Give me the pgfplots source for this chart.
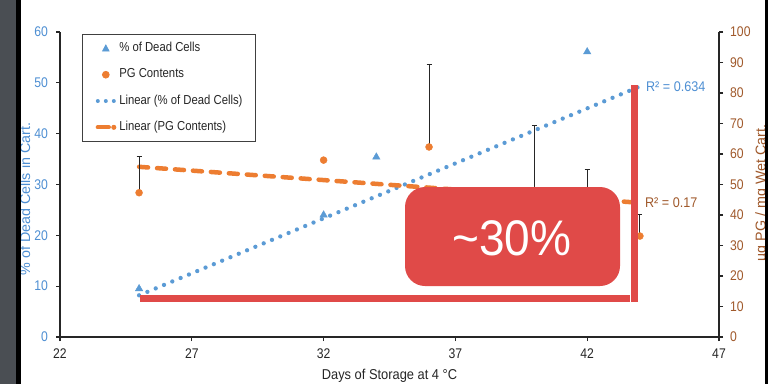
\documentclass[border=0pt]{standalone}
\usepackage{fontspec}
\setmainfont{Liberation Sans}
\usepackage{pgfplots}
\usepackage{pgfplotstable}
\pgfplotsset{compat=1.18}

\definecolor{cellblue}{HTML}{5B9BD5}
\definecolor{labelblue}{HTML}{4E8FD3}
\definecolor{pgorange}{HTML}{ED7D31}
\definecolor{pgbrown}{HTML}{A0592B}
\definecolor{callout}{HTML}{E04A48}
\definecolor{sidegray}{HTML}{4A4E53}
\definecolor{axisgray}{HTML}{262626}

% % of dead cells in the cartilage (left axis)
\pgfplotstableread{
day cells
25 9.5
32 24.0
34 35.4
42 56.1
}\deadcells

% PG content, ug PG / mg wet cartilage (right axis), with upper error
\pgfplotstableread{
day pg err
25 47.3 11.8
32 58.0 0
36 62.3 26.9
40 48.0 21.2
42 48.0 7.0
44 33.1 7.2
}\pgcontent

\pgfplotstableread{
day pg err
25 47.3 11.8
36 62.3 26.9
40 48.0 21.2
42 48.0 7.0
44 33.1 7.2
}\pgerrors

% linear trend lines (end points)
\pgfplotstableread{
day cells
25 8.2
44 49.3
}\cellsfit

\pgfplotstableread{
day pg
25 55.8
44 44.0
}\pgfit

\newcommand\px[1]{\fontsize{#1}{#1}\selectfont}
\newcommand\sq[1]{\scalebox{0.87}[1]{#1}}

\pgfplotsset{
  chartbase/.style={
    scale only axis, width=659pt, height=305pt,
    at={(60pt,47pt)}, anchor=south west,
    xmin=22, xmax=47,
    tick align=outside, major tick length=4pt,
    axis line style={axisgray, line width=1.1pt},
    major tick style={axisgray, line width=1.1pt},
    /pgf/number format/assume math mode=true,
    clip=false,
  },
}

\begin{document}
\begin{tikzpicture}
\path[use as bounding box] (0pt,0pt) rectangle (768pt,384pt);
\fill[white] (0pt,0pt) rectangle (768pt,384pt);

\begin{axis}[chartbase,
  ymin=0, ymax=60,
  axis x line*=bottom, axis y line*=left,
  xtick={22,27,...,47}, ytick={0,10,...,60},
  xticklabel={\sq{\pgfmathprintnumber{\tick}}},
  yticklabel={\sq{\pgfmathprintnumber{\tick}}},
  xticklabel style={font=\px{14}, text=black!85, inner sep=0pt},
  yticklabel style={font=\px{14}, text=labelblue, inner sep=0pt},
  xticklabel shift=8pt, yticklabel shift=8pt,
  legend style={
    at={(rel axis cs:0.0334,0.9934)}, anchor=north west,
    draw=black!75, line width=0.8pt, fill=white,
    inner xsep=13pt, inner ysep=8pt,
    row sep=14.3pt,
    nodes={inner sep=0pt, text height=9pt, text depth=3pt},
    font=\px{13}, text=black!85,
    /tikz/every odd column/.append style={column sep=3pt},
  },
  legend cell align=left,
]
\addlegendimage{legend image code/.code={
  \path (0pt,0pt) (18pt,0pt);
  \fill[cellblue] (6.8pt,-2.6pt) -- (13.2pt,-2.6pt) -- (10pt,3.4pt) -- cycle;}}
\addlegendentry{\sq{\% of Dead Cells}}
\addlegendimage{legend image code/.code={
  \path (0pt,0pt) (18pt,0pt);
  \fill[pgorange] (10pt,0pt) circle (3.4pt);}}
\addlegendentry{\sq{PG Contents}}
\addlegendimage{legend image code/.code={
  \draw[cellblue, line width=4pt, line cap=round, dash pattern=on 0pt off 8pt] (2pt,0pt) -- (18pt,0pt);}}
\addlegendentry{\sq{Linear (\% of Dead Cells)}}
\addlegendimage{legend image code/.code={
  \draw[pgorange, line width=4.3pt, line cap=round] (2pt,0pt) -- (13pt,0pt);
  \fill[pgorange] (18pt,0pt) circle (2.1pt);}}
\addlegendentry{\sq{Linear (PG Contents)}}

\addplot[forget plot, cellblue, line width=4.3pt, line cap=round,
  dash pattern=on 0pt off 9pt] table[x=day, y=cells] {\cellsfit};
\addplot[forget plot, only marks, mark=triangle*, mark size=4.3pt,
  color=cellblue, mark options={fill=cellblue, draw=cellblue}]
  table[x=day, y=cells] {\deadcells};

\node[anchor=west, text=labelblue, font=\px{14}, inner sep=0pt, xshift=6pt]
  at (axis cs:44,49.3) {\scalebox{0.9}[1]{R² = 0.634}};
\node[rotate=90, text=labelblue, font=\px{14.3}, inner sep=0pt]
  at (rel axis cs:-0.053,0.452) {\% of Dead Cells in Cart.};
\node[text=black!85, font=\px{14.3}, inner sep=0pt]
  at (rel axis cs:0.5,-0.128) {\scalebox{0.9}[1]{Days of Storage at 4 °C}};
\end{axis}

\begin{axis}[chartbase,
  ymin=0, ymax=100,
  axis x line=none, axis y line*=right,
  ytick={0,10,...,100},
  yticklabel={\sq{\pgfmathprintnumber{\tick}}},
  yticklabel style={font=\px{14}, text=pgbrown, inner sep=0pt},
  yticklabel shift=7pt,
]
\addplot[pgorange, line width=4.5pt, line cap=round,
  dash pattern=on 9pt off 9pt] table[x=day, y=pg] {\pgfit};
\addplot[only marks, mark=none,
  error bars/.cd, y dir=plus, y explicit,
  error bar style={axisgray, line width=0.9pt},
  error mark options={axisgray, line width=0.9pt, mark size=2.5pt, rotate=90}]
  table[x=day, y=pg, y error=err] {\pgerrors};
\addplot[only marks, mark=*, mark size=3.5pt, color=pgorange,
  mark options={fill=pgorange, draw=pgorange}]
  table[x=day, y=pg] {\pgcontent};

\node[anchor=west, text=pgbrown, font=\px{14}, inner sep=0pt, xshift=5pt]
  at (axis cs:44,44.0) {\scalebox{0.9}[1]{R² = 0.17}};
\node[rotate=90, text=pgbrown, font=\px{14.3}, inner sep=0pt]
  at (rel axis cs:1.0653,0.472) {µg PG / mg Wet Cart.};
\end{axis}

% highlight drawn over the chart
\fill[callout, rounded corners=20pt] (405pt,98pt) rectangle (620pt,197pt);
\node[text=white, font=\px{50}, inner sep=0pt] at (512pt,146pt)
  {\scalebox{0.92}[1]{\textasciitilde30\%}};
\fill[callout] (140pt,82pt) rectangle (630pt,89pt);
\fill[callout] (631pt,82pt) rectangle (638pt,299pt);

% frame strips at the sides
\fill[sidegray] (0pt,0pt) rectangle (15.5pt,384pt);
\fill[black] (15.5pt,0pt) rectangle (20.5pt,384pt);
\fill[black] (765pt,0pt) rectangle (768pt,384pt);
\end{tikzpicture}
\end{document}
